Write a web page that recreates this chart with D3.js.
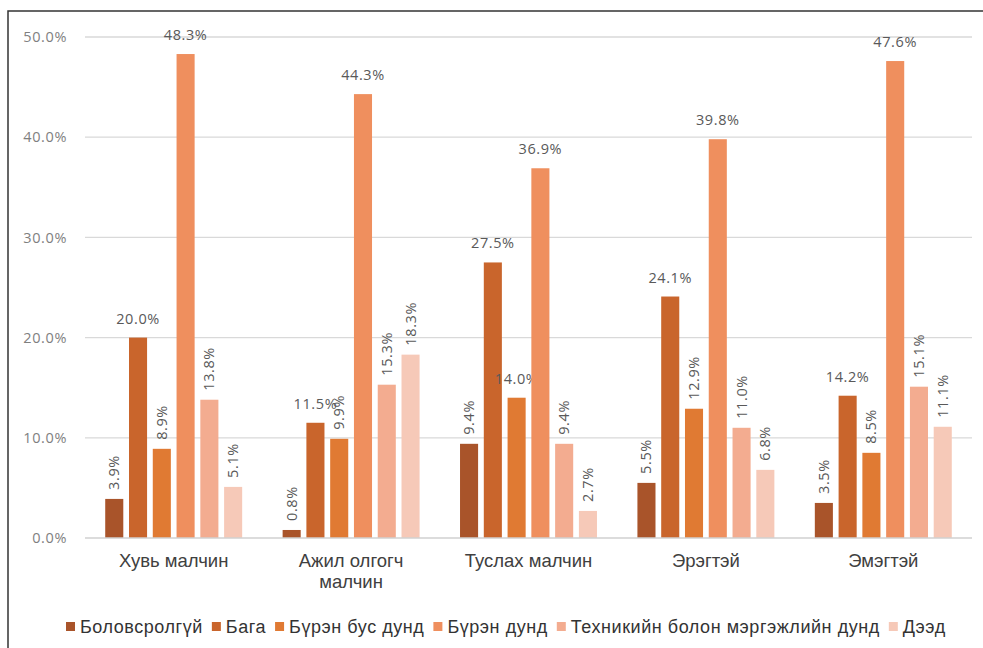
<!DOCTYPE html>
<html>
<head>
<meta charset="utf-8">
<script src="https://cdn.jsdelivr.net/npm/d3@7"></script>
<style>
  html, body { margin: 0; padding: 0; background: #fff; }
  svg { display: block; }
</style>
</head>
<body>
<svg id="chart" width="983" height="648"></svg>
<script>
const categories = ["Хувь малчин", "Ажил олгогч малчин", "Туслах малчин", "Эрэгтэй", "Эмэгтэй"];
const categoryLines = [["Хувь малчин"], ["Ажил олгогч", "малчин"], ["Туслах малчин"], ["Эрэгтэй"], ["Эмэгтэй"]];
const seriesNames = ["Боловсролгүй", "Бага", "Бүрэн бус дунд", "Бүрэн дунд", "Техникийн болон мэргэжлийн дунд", "Дээд"];
const valBolovsrolgui = [3.9, 0.8, 9.4, 5.5, 3.5];
const valBaga = [20.0, 11.5, 27.5, 24.1, 14.2];
const valBurenBusDund = [8.9, 9.9, 14.0, 12.9, 8.5];
const valBurenDund = [48.3, 44.3, 36.9, 39.8, 47.6];
const valTechnical = [13.8, 15.3, 9.4, 11.0, 15.1];
const valDeed = [5.1, 18.3, 2.7, 6.8, 11.1];
const yTicks = [0, 10, 20, 30, 40, 50];
const seriesValues = [valBolovsrolgui, valBaga, valBurenBusDund, valBurenDund, valTechnical, valDeed];
const colors = ["#A9542A", "#C9652C", "#E07A33", "#EF8F5E", "#F3AC90", "#F6C9B8"];
// labels drawn horizontally (series index, category index); the rest are rotated
const horizontalSeries = [1, 3];
const horizontalExtra = [[2, 2]];

const svg = d3.select("#chart");
const W = 983, H = 648;
const margin = { left: 85, right: 11, top: 37, bottom: 110 };

// frame
svg.append("path")
  .attr("d", `M8,${H} L8,11 L${W},11`)
  .attr("fill", "none").attr("stroke", "#333").attr("stroke-width", 1.5);

const x0 = d3.scaleBand().domain(categories).range([margin.left, W - margin.right])
  .paddingInner(0.228).paddingOuter(0.114);
const x1 = d3.scaleBand().domain(d3.range(seriesNames.length)).range([0, x0.bandwidth()])
  .paddingInner(0.24).paddingOuter(0);
const y = d3.scaleLinear().domain([0, 50]).range([538, 37]);

// gridlines
svg.append("g").selectAll("line").data(yTicks.filter(d => d > 0)).join("line")
  .attr("x1", margin.left).attr("x2", W - margin.right)
  .attr("y1", d => y(d)).attr("y2", d => y(d))
  .attr("stroke", "#d9d9d9").attr("stroke-width", 1.3);

// y axis labels
const yAxis = d3.axisLeft(y).tickValues(yTicks).tickFormat(d => d3.format(".1f")(d) + "%").tickSize(0).tickPadding(0);
const gy = svg.append("g").attr("transform", `translate(67,0)`).call(yAxis);
gy.select(".domain").remove();
gy.selectAll("text").attr("font-family", "'Open Sans', sans-serif").attr("font-size", 14.5)
  .attr("fill", "#7f7f7f").attr("letter-spacing", 0.6);

// bars
const groups = svg.append("g").selectAll("g").data(categories).join("g")
  .attr("transform", d => `translate(${x0(d)},0)`);

groups.each(function(cat, ci) {
  const g = d3.select(this);
  seriesValues.forEach((vals, si) => {
    const v = vals[ci];
    const bx = x1(si), bw = x1.bandwidth();
    g.append("rect").attr("x", bx).attr("width", bw)
      .attr("y", y(v)).attr("height", y(0) - y(v)).attr("fill", colors[si]);
    const horiz = horizontalSeries.includes(si) || horizontalExtra.some(p => p[0] === si && p[1] === ci);
    const label = d3.format(".1f")(v) + "%";
    const cx = bx + bw / 2;
    if (horiz) {
      g.append("text").attr("x", cx).attr("y", y(v) - 14)
        .attr("text-anchor", "middle")
        .attr("font-family", "'Open Sans', sans-serif").attr("font-size", 14.5)
        .attr("letter-spacing", 0.6).attr("fill", "#595959").text(label);
    } else {
      g.append("text")
        .attr("transform", `translate(${cx + 5},${y(v) - 9}) rotate(-90)`)
        .attr("text-anchor", "start")
        .attr("font-family", "'Open Sans', sans-serif").attr("font-size", 14.5)
        .attr("letter-spacing", 0.6).attr("fill", "#595959").text(label);
    }
  });
});

// x axis line
svg.append("line").attr("x1", margin.left).attr("x2", W - margin.right)
  .attr("y1", y(0)).attr("y2", y(0)).attr("stroke", "#d0d0d0").attr("stroke-width", 1.3);

// category labels
const xl = svg.append("g");
categories.forEach((c, i) => {
  const t = xl.append("text").attr("x", x0(c) + x0.bandwidth() / 2).attr("y", 567)
    .attr("text-anchor", "middle").attr("font-family", "'Liberation Sans', Arial, sans-serif")
    .attr("font-size", 18.5).attr("fill", "#404040");
  categoryLines[i].forEach((ln, k) => {
    t.append("tspan").attr("x", x0(c) + x0.bandwidth() / 2).attr("dy", k === 0 ? 0 : 21).text(ln);
  });
});

// legend
const leg = svg.append("g").attr("transform", "translate(66,627)");
let lx = 0;
seriesNames.forEach((s, i) => {
  leg.append("rect").attr("x", lx).attr("y", -5).attr("width", 9).attr("height", 9).attr("fill", colors[i]);
  const t = leg.append("text").attr("x", lx + 14).attr("y", 6)
    .attr("font-family", "'Liberation Sans', Arial, sans-serif")
    .attr("font-size", 18).attr("letter-spacing", 0.55).attr("fill", "#333").text(s);
  const w = t.node().getComputedTextLength();
  lx += 14 + w + 9;
});
</script>
</body>
</html>
